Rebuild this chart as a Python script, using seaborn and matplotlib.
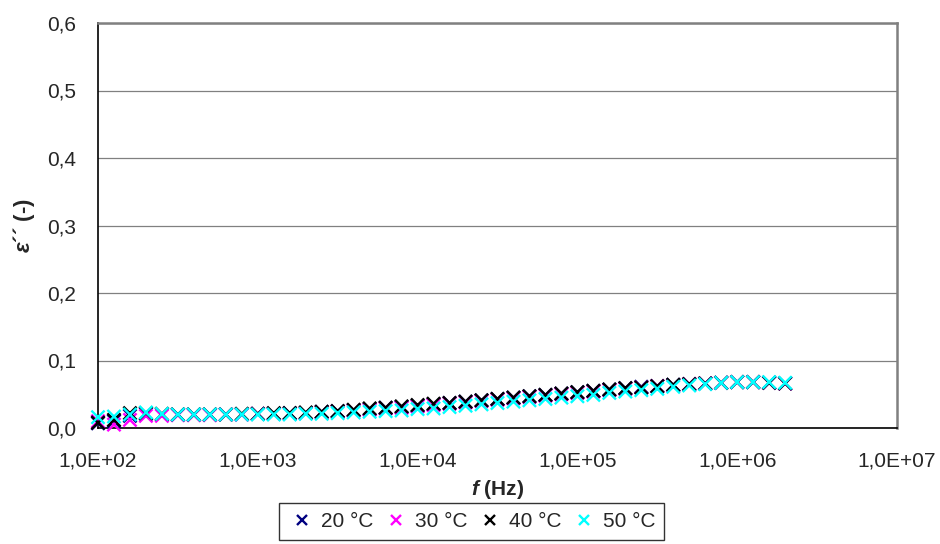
import numpy as np
import pandas as pd
import seaborn as sns
import matplotlib.pyplot as plt
from matplotlib.ticker import FuncFormatter, FixedLocator, NullLocator

# frequencies: 10 points per decade, 1E+02 .. 2E+06
log_f = [2.0, 2.1, 2.2, 2.3, 2.4, 2.5, 2.6, 2.7, 2.8, 2.9,
         3.0, 3.1, 3.2, 3.3, 3.4, 3.5, 3.6, 3.7, 3.8, 3.9,
         4.0, 4.1, 4.2, 4.3, 4.4, 4.5, 4.6, 4.7, 4.8, 4.9,
         5.0, 5.1, 5.2, 5.3, 5.4, 5.5, 5.6, 5.7, 5.8, 5.9,
         6.0, 6.1, 6.2, 6.3]
freq = [10 ** v for v in log_f]

eps_20 = [0.007, 0.010, 0.018, 0.021, 0.020, 0.020, 0.020, 0.020, 0.020, 0.020,
          0.021, 0.021, 0.022, 0.022, 0.024, 0.025, 0.026, 0.028, 0.030, 0.031,
          0.033, 0.035, 0.037, 0.039, 0.041, 0.043, 0.045, 0.047, 0.049, 0.051,
          0.053, 0.055, 0.057, 0.059, 0.061, 0.062, 0.064, 0.065, 0.066, 0.067,
          0.068, 0.068, 0.067, 0.066]
eps_30 = [0.010, 0.005, 0.012, 0.018, 0.018, 0.019, 0.019, 0.019, 0.020, 0.020,
          0.021, 0.021, 0.021, 0.022, 0.023, 0.024, 0.026, 0.027, 0.029, 0.030,
          0.032, 0.034, 0.036, 0.038, 0.040, 0.042, 0.044, 0.046, 0.048, 0.050,
          0.052, 0.054, 0.056, 0.058, 0.060, 0.062, 0.063, 0.065, 0.066, 0.067,
          0.068, 0.068, 0.067, 0.066]
eps_40 = [0.008, 0.012, 0.022, 0.022, 0.021, 0.020, 0.020, 0.020, 0.020, 0.021,
          0.021, 0.022, 0.022, 0.023, 0.024, 0.025, 0.027, 0.029, 0.030, 0.032,
          0.034, 0.036, 0.037, 0.039, 0.041, 0.043, 0.045, 0.047, 0.049, 0.051,
          0.053, 0.055, 0.057, 0.059, 0.060, 0.062, 0.064, 0.065, 0.066, 0.067,
          0.068, 0.068, 0.067, 0.066]
eps_50 = [0.016, 0.017, 0.020, 0.023, 0.021, 0.020, 0.020, 0.020, 0.020, 0.020,
          0.020, 0.020, 0.020, 0.021, 0.021, 0.022, 0.023, 0.024, 0.025, 0.026,
          0.028, 0.029, 0.031, 0.033, 0.035, 0.037, 0.039, 0.041, 0.043, 0.045,
          0.047, 0.049, 0.052, 0.054, 0.056, 0.058, 0.061, 0.063, 0.065, 0.067,
          0.068, 0.068, 0.068, 0.067]

labels = ["20 °C", "30 °C", "40 °C", "50 °C"]
colors = ["#000080", "#FF00FF", "#000000", "#00FFFF"]

df = pd.concat([
    pd.DataFrame({"f": freq, "eps": e, "T": lab})
    for e, lab in zip([eps_20, eps_30, eps_40, eps_50], labels)
])

sns.set_style("white")
plt.rcParams["font.family"] = ["Liberation Sans", "DejaVu Sans"]
plt.rcParams["mathtext.fontset"] = "custom"
plt.rcParams["mathtext.bfit"] = "Liberation Sans:italic:bold"

fig = plt.figure(figsize=(9.4, 5.44), dpi=100)
ax = fig.add_axes([98 / 940, 1 - 428 / 544, 799 / 940, 405 / 544])

sns.scatterplot(data=df, x="f", y="eps", hue="T", palette=colors,
                marker="x", s=90, linewidth=1.7, ax=ax, clip_on=False, zorder=3)

ax.set_xscale("log")
ax.set_xlim(1e2, 1e7)
ax.set_ylim(0, 0.6)
ax.xaxis.set_major_locator(FixedLocator([1e2, 1e3, 1e4, 1e5, 1e6, 1e7]))
ax.xaxis.set_minor_locator(NullLocator())
ax.set_yticks([0, 0.1, 0.2, 0.3, 0.4, 0.5, 0.6])
ax.xaxis.set_major_formatter(FuncFormatter(lambda v, p: f"{v:.1E}".replace(".", ",")))
ax.yaxis.set_major_formatter(FuncFormatter(lambda v, p: f"{v:.1f}".replace(".", ",")))
ax.tick_params(axis="both", direction="out", length=5, width=1, color="black",
               labelsize=15)
ax.tick_params(axis="y", pad=11)
ax.tick_params(axis="x", pad=12)

ax.grid(axis="y", color="#808080", linewidth=0.9)
ax.grid(axis="x", visible=False)
for s in ["left", "bottom"]:
    ax.spines[s].set_color("black")
    ax.spines[s].set_linewidth(1.2)
for s in ["top", "right"]:
    ax.spines[s].set_color("#808080")
    ax.spines[s].set_linewidth(1.8)

ax.set_xlabel(r"$\mathbfit{f}$ (Hz)", fontsize=15, fontweight="bold")
ax.xaxis.set_label_coords(0.5, -0.123)
ax.set_ylabel(r"$\mathbfit{ε}$´´ (-)", fontsize=16, fontweight="bold", labelpad=7)

sns.move_legend(ax, "center", bbox_to_anchor=(0.468, -0.231), ncol=4, title=None,
                frameon=True, fontsize=15, handlelength=1.3, handletextpad=0.25,
                columnspacing=0.45, borderpad=0.43, fancybox=False,
                edgecolor="black", markerscale=0.75)
leg = ax.get_legend()
leg.get_frame().set_linewidth(1.0)
for h in leg.legend_handles:
    h.set_linewidth(1.0)

fig.savefig("out.png", dpi=100)
